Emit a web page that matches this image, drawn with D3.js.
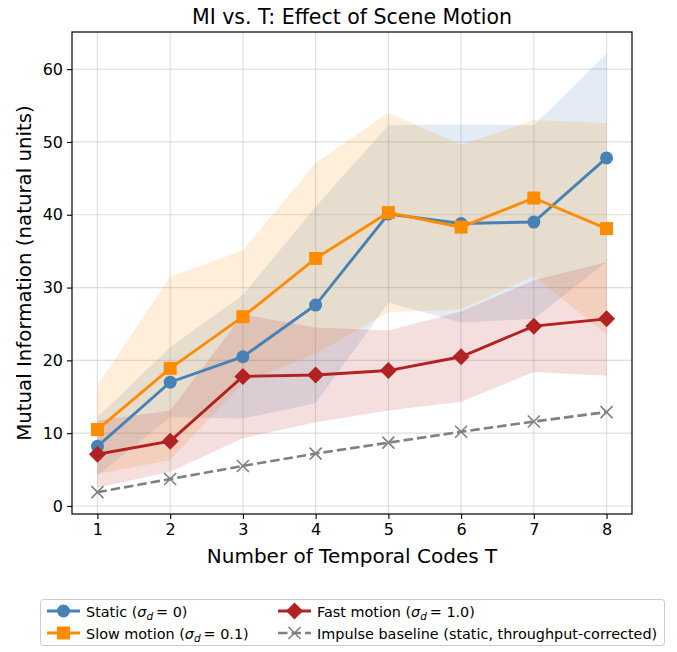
<!DOCTYPE html>
<html>
<head>
<meta charset="utf-8">
<script src="https://cdn.jsdelivr.net/npm/d3@7"></script>
<style>
  body { margin: 0; background: #fff; }
  svg text { font-family: "DejaVu Sans", sans-serif; fill: #000; }
</style>
</head>
<body>
<div id="chart"></div>
<script>
// data
let codes = [1, 2, 3, 4, 5, 6, 7, 8];
let staticMean = [8.2, 17.0, 20.5, 27.6, 40.1, 38.8, 39.0, 47.8];
let staticSd   = [4.0, 4.8, 8.5, 13.5, 12.2, 13.6, 13.3, 14.3];
let slowMean   = [10.5, 18.9, 26.0, 34.0, 40.3, 38.3, 42.3, 38.1];
let slowSd     = [6.1, 12.6, 9.1, 13.1, 13.7, 11.3, 10.7, 14.5];
let fastMean   = [7.1, 8.9, 17.8, 18.0, 18.6, 20.5, 24.7, 25.7];
let fastSd     = [4.6, 4.2, 8.5, 6.5, 5.5, 6.2, 6.3, 7.8];
let impulse    = [1.9, 3.7, 5.5, 7.2, 8.7, 10.2, 11.6, 12.9];
let yTicks = [0, 10, 20, 30, 40, 50, 60];

let width = 677, height = 652;
let margin = {left: 72, right: 45, top: 32, bottom: 138};

let svg = d3.select('#chart').append('svg')
    .attr('width', width)
    .attr('height', height);

let x = d3.scaleLinear().domain([0.65, 8.35]).range([margin.left, width - margin.right]);
let y = d3.scaleLinear().domain([-1.1, 65.1]).range([height - margin.bottom, margin.top]);

// grid
let grid = svg.append('g');
grid.selectAll('.gx').data(codes).enter().append('line')
    .attr('x1', d => x(d)).attr('x2', d => x(d))
    .attr('y1', y.range()[0]).attr('y2', y.range()[1])
    .attr('stroke', '#b0b0b0').attr('stroke-opacity', 0.4).attr('stroke-width', 1.2);
grid.selectAll('.gy').data(yTicks).enter().append('line')
    .attr('x1', x.range()[0]).attr('x2', x.range()[1])
    .attr('y1', d => y(d)).attr('y2', d => y(d))
    .attr('stroke', '#b0b0b0').attr('stroke-opacity', 0.4).attr('stroke-width', 1.2);

let series = [
  {name: 'static', mean: staticMean, sd: staticSd, color: '#4682B4', marker: 'circle'},
  {name: 'slow', mean: slowMean, sd: slowSd, color: '#FF8C00', marker: 'square'},
  {name: 'fast', mean: fastMean, sd: fastSd, color: '#B22222', marker: 'diamond'}
];

let area = d3.area()
    .x((d, i) => x(codes[i]))
    .y0(d => y(d[0]))
    .y1(d => y(d[1]));

series.forEach(s => {
  let band = s.mean.map((m, i) => [m - s.sd[i], m + s.sd[i]]);
  svg.append('path')
      .attr('d', area(band))
      .attr('fill', s.color)
      .attr('fill-opacity', 0.15);
});

let line = d3.line().x((d, i) => x(codes[i])).y(d => y(d));

function drawMarker(g, type, cx, cy, color) {
  if (type == 'circle') {
    g.append('circle').attr('cx', cx).attr('cy', cy).attr('r', 6.5).attr('fill', color);
  } else if (type == 'square') {
    g.append('rect').attr('x', cx - 6.5).attr('y', cy - 6.5).attr('width', 13).attr('height', 13).attr('fill', color);
  } else if (type == 'diamond') {
    g.append('path').attr('d', `M${cx},${cy - 8.5}L${cx + 8.5},${cy}L${cx},${cy + 8.5}L${cx - 8.5},${cy}Z`).attr('fill', color);
  } else if (type == 'x') {
    g.append('path').attr('d', `M${cx - 6},${cy - 6}L${cx + 6},${cy + 6}M${cx - 6},${cy + 6}L${cx + 6},${cy - 6}`)
      .attr('stroke', color).attr('stroke-width', 1.6);
  }
}

// impulse baseline
svg.append('path')
    .attr('d', line(impulse))
    .attr('fill', 'none')
    .attr('stroke', '#808080')
    .attr('stroke-width', 2.6)
    .attr('stroke-dasharray', '9.5,4');
let gi = svg.append('g');
impulse.forEach((v, i) => drawMarker(gi, 'x', x(codes[i]), y(v), '#808080'));

series.forEach(s => {
  svg.append('path')
      .attr('d', line(s.mean))
      .attr('fill', 'none')
      .attr('stroke', s.color)
      .attr('stroke-width', 2.9);
  let gm = svg.append('g');
  s.mean.forEach((v, i) => drawMarker(gm, s.marker, x(codes[i]), y(v), s.color));
});

// frame
svg.append('rect')
    .attr('x', x.range()[0]).attr('y', y.range()[1])
    .attr('width', x.range()[1] - x.range()[0])
    .attr('height', y.range()[0] - y.range()[1])
    .attr('fill', 'none').attr('stroke', '#000').attr('stroke-width', 1.2);

// axes
let xAxis = svg.append('g')
    .attr('transform', `translate(0,${y.range()[0]})`)
    .call(d3.axisBottom(x).tickValues(codes).tickFormat(d3.format('d')).tickSize(5).tickPadding(5));
let yAxis = svg.append('g')
    .attr('transform', `translate(${x.range()[0]},0)`)
    .call(d3.axisLeft(y).tickValues(yTicks).tickSize(5).tickPadding(4));
[xAxis, yAxis].forEach(a => {
  a.select('.domain').remove();
  a.selectAll('text').style('font-size', '16px').style('font-family', '"DejaVu Sans", sans-serif');
  a.selectAll('line').attr('stroke', '#000').attr('stroke-width', 1.1);
});

// titles
svg.append('text')
    .attr('x', (x.range()[0] + x.range()[1]) / 2).attr('y', 24)
    .attr('text-anchor', 'middle').style('font-size', '20.5px')
    .text('MI vs. T: Effect of Scene Motion');
svg.append('text')
    .attr('x', (x.range()[0] + x.range()[1]) / 2).attr('y', 563)
    .attr('text-anchor', 'middle').style('font-size', '20px')
    .text('Number of Temporal Codes T');
svg.append('text')
    .attr('transform', `translate(31,${(y.range()[0] + y.range()[1]) / 2}) rotate(-90)`)
    .attr('text-anchor', 'middle').style('font-size', '19.8px')
    .text('Mutual Information (natural units)');

// legend
let legend = svg.append('g');
legend.append('rect')
    .attr('x', 40.5).attr('y', 599.5).attr('width', 624).attr('height', 46).attr('rx', 3)
    .attr('fill', '#fff').attr('stroke', '#ccc').attr('stroke-width', 1);

let legendItems = [
  {label: ['Static (', '= 0)'], color: '#4682B4', marker: 'circle', col: 0, row: 0},
  {label: ['Slow motion (', '= 0.1)'], color: '#FF8C00', marker: 'square', col: 0, row: 1},
  {label: ['Fast motion (', '= 1.0)'], color: '#B22222', marker: 'diamond', col: 1, row: 0},
  {label: ['Impulse baseline (static, throughput-corrected)'], color: '#808080', marker: 'x', col: 1, row: 1, dashed: true}
];
legendItems.forEach(it => {
  let lx = it.col == 0 ? 47 : 278;
  let ly = it.row == 0 ? 611 : 633;
  let gl = legend.append('g');
  gl.append('line')
      .attr('x1', lx).attr('x2', lx + 33).attr('y1', ly).attr('y2', ly)
      .attr('stroke', it.color).attr('stroke-width', it.dashed ? 2.6 : 2.9)
      .attr('stroke-dasharray', it.dashed ? '9.5,4' : null);
  drawMarker(gl, it.marker, lx + 16.5, ly, it.color);
  let t = gl.append('text').attr('x', lx + 39).attr('y', ly + 5.5).style('font-size', '14.4px');
  t.append('tspan').text(it.label[0]);
  if (it.label.length > 1) {
    t.append('tspan').style('font-style', 'italic').text('σ');
    t.append('tspan').attr('dy', 3).style('font-size', '10.5px').style('font-style', 'italic').text('d');
    t.append('tspan').attr('dy', -3).text('\u2009' + it.label[1]);
  }
});
</script>
</body>
</html>
